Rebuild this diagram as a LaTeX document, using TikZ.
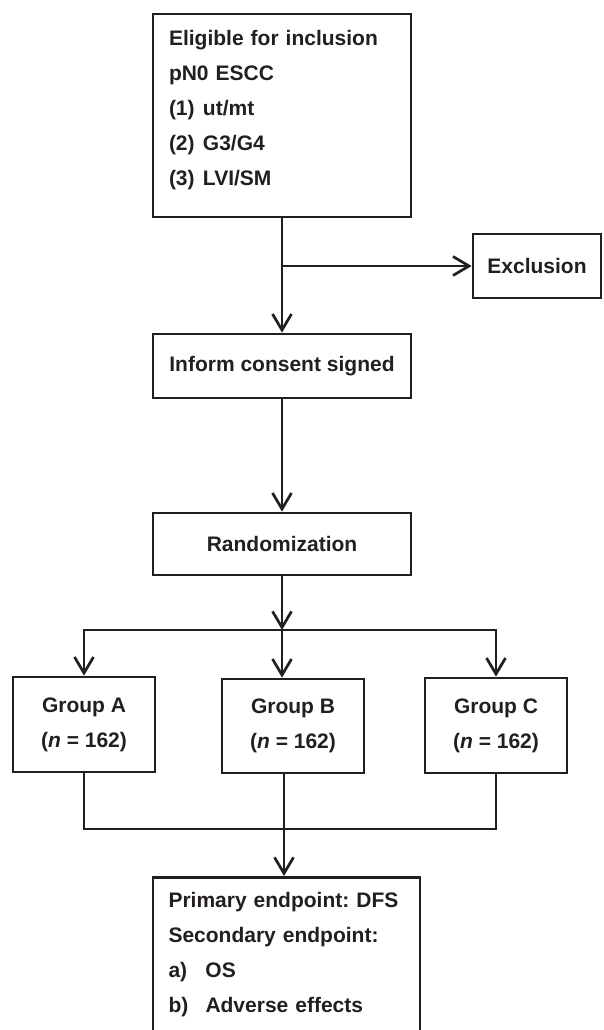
\documentclass[tikz,border=0pt]{standalone}
\usepackage{fontspec}
\setmainfont{Liberation Sans}
\usepackage{xcolor}
\usepackage{tikz}
\usetikzlibrary{arrows.meta,positioning,calc}
\definecolor{ink}{RGB}{35,31,32}
\tikzset{
  flowbox/.style={draw=ink, line width=2.7pt, inner sep=0pt, text=ink, align=center},
  listbox/.style={flowbox, inner xsep=16pt, align=left},
  arr/.style={-{Straight Barb[length=16pt,width=19pt]}, ink, line width=2.7pt},
  link/.style={ink, line width=2.7pt},
}
\begin{document}
\begin{tikzpicture}[x=1pt, y=-1pt, font=\bfseries\fontsize{21}{35}\selectfont]
  \useasboundingbox (0,0) rectangle (603,1030);
  \node[listbox, text width=226pt, minimum height=203pt] (elig) at (282,115.5)
    {Eligible for inclusion\\
     pN0 ESCC\\
     \makebox[34pt][l]{(1)}ut/mt\\
     \makebox[34pt][l]{(2)}G3/G4\\
     \makebox[34pt][l]{(3)}LVI/SM\rule[-15pt]{0pt}{15pt}};
  \node[flowbox, minimum width=128pt, minimum height=64pt] (excl) at (537,266) {Exclusion};
  \node[flowbox, minimum width=258pt, minimum height=64pt] (consent) at (282,366) {Inform consent signed};
  \node[flowbox, minimum width=258pt, minimum height=62pt] (rand) at (282,544) {Randomization};
  \node[flowbox, minimum width=142pt, minimum height=95pt] (grpA) at (84,724.5) {Group A\\(\textit{n} = 162)};
  \node[flowbox, minimum width=142pt, minimum height=94pt] (grpB) at (293,726) {Group B\\(\textit{n} = 162)};
  \node[flowbox, minimum width=142pt, minimum height=95pt] (grpC) at (496,725.5) {Group C\\(\textit{n} = 162)};
  \node[listbox, anchor=north, text width=236pt, inner xsep=15.5pt, inner ysep=15pt] (endpt) at (286.5,876)
    {\mbox{Primary endpoint:\ DFS}\\
     \mbox{Secondary endpoint:}\\
     \makebox[37pt][l]{a)}OS\\
     \makebox[37pt][l]{b)}\mbox{Adverse effects}\rule[-60pt]{0pt}{60pt}};
  \coordinate (exbranch) at (282,266);
  \coordinate (fork) at (282,630);
  \coordinate (merge) at (284,829);
  \draw[arr] (elig.south) -- (consent.north);
  \draw[arr] (exbranch) -- (excl.west);
  \draw[arr] (consent.south) -- (rand.north);
  \draw[arr] (rand.south) -- (fork);
  \draw[arr] (fork) -| (grpA.north);
  \draw[arr] (fork) -- (fork |- grpB.north);
  \draw[arr] (fork) -| (grpC.north);
  \draw[link] (grpA.south) |- (merge);
  \draw[link] (grpC.south) |- (merge);
  \draw[arr] (grpB.south -| merge) -- (endpt.north -| merge);
\end{tikzpicture}
\end{document}
